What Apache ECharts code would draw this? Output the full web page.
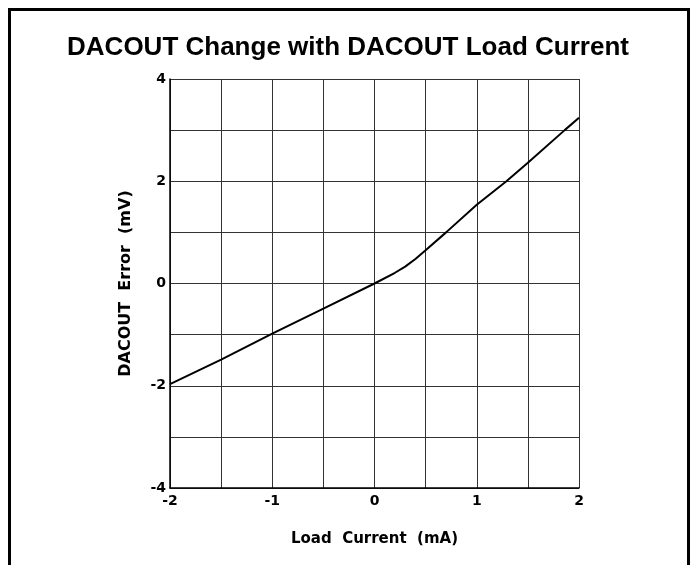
<!DOCTYPE html>
<html>
<head>
<meta charset="utf-8">
<script src="https://cdn.jsdelivr.net/npm/echarts@6/dist/echarts.min.js"></script>
<style>
  html, body { margin: 0; padding: 0; background: #fff; }
  #chart { width: 696px; height: 565px; }
</style>
</head>
<body>
<div id="chart"></div>
<script>
// load current (mA) vs DACOUT error (mV)
const loadCurrent = [-2, -1.5, -1, -0.5, 0, 0.2, 0.3, 0.4, 0.5, 0.7, 1, 1.29, 1.5, 1.86, 2]
const dacoutError = [-1.97, -1.49, -0.98, -0.49, 0, 0.21, 0.33, 0.48, 0.65, 1.0, 1.54, 2.0, 2.36, 3.0, 3.24]
const xTicks = [-2, -1, 0, 1, 2]
const yTicks = [-4, -2, 0, 2, 4]

const chart = echarts.init(document.getElementById('chart'))

const tickFont = {
    color: '#000',
    fontFamily: 'DejaVu Sans',
    fontWeight: 'bold',
    fontSize: 14
}

const option = {
    animation: false,
    backgroundColor: '#fff',
    title: {
        text: 'DACOUT Change with DACOUT Load Current',
        left: 'center',
        top: 30,
        textStyle: {
            color: '#000',
            fontFamily: 'Liberation Sans',
            fontWeight: 'bold',
            fontSize: 26
        }
    },
    graphic: [
        {
            type: 'rect',
            shape: { x: 9.5, y: 9.5, width: 679, height: 600 },
            style: { fill: 'none', stroke: '#000', lineWidth: 3 },
            silent: true
        }
    ],
    grid: {
        left: 170,
        top: 79,
        width: 409,
        height: 409
    },
    xAxis: {
        type: 'value',
        min: -2,
        max: 2,
        interval: 0.5,
        name: 'Load  Current  (mA)',
        nameLocation: 'middle',
        nameGap: 44,
        nameTextStyle: {
            color: '#000',
            fontFamily: 'DejaVu Sans',
            fontWeight: 'bold',
            fontSize: 15
        },
        axisLine: { onZero: false, lineStyle: { color: '#000', width: 1.5 } },
        axisTick: { show: false },
        axisLabel: Object.assign({}, tickFont, {
            margin: 6,
            formatter: v => xTicks.includes(v) ? String(v) : ''
        }),
        splitLine: { show: true, lineStyle: { color: '#333', width: 1 } }
    },
    yAxis: {
        type: 'value',
        min: -4,
        max: 4,
        interval: 1,
        name: 'DACOUT  Error  (mV)',
        nameLocation: 'middle',
        nameGap: 36,
        nameTextStyle: {
            color: '#000',
            fontFamily: 'DejaVu Sans',
            fontWeight: 'bold',
            fontSize: 16
        },
        axisLine: { show: true, onZero: false, lineStyle: { color: '#000', width: 1.5 } },
        axisTick: { show: false },
        axisLabel: Object.assign({}, tickFont, {
            margin: 4,
            formatter: v => yTicks.includes(v) ? String(v) : ''
        }),
        splitLine: { show: true, lineStyle: { color: '#333', width: 1 } }
    },
    series: [
        {
            type: 'line',
            data: loadCurrent.map((x, i) => [x, dacoutError[i]]),
            smooth: false,
            symbol: 'none',
            lineStyle: { color: '#000', width: 2 }
        }
    ]
}

chart.setOption(option)
</script>
</body>
</html>
